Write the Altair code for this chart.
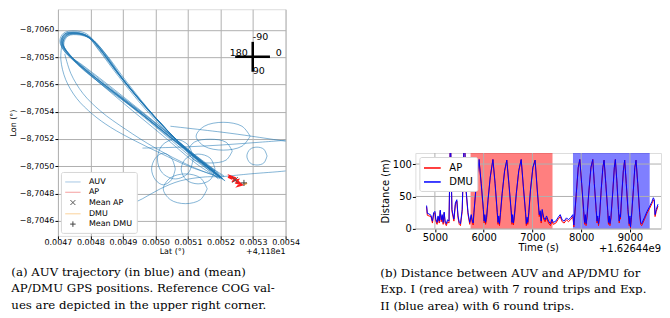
import altair as alt
import pandas as pd

# ---------------- (a) AUV trajectory (lat offset from 41.18, lon) ----------------
lat_lap1 = [0.005199, 0.005092, 0.004985, 0.004893, 0.004832, 0.004795, 0.004758, 0.004724, 0.004712, 0.004734, 0.004801, 0.004908, 0.005030, 0.005138, 0.005205]
lon_lap1 = [-8.704922, -8.705133, -8.705394, -8.705656, -8.705852, -8.705947, -8.705976, -8.705961, -8.705903, -8.705816, -8.705678, -8.705474, -8.705242, -8.705024, -8.704915]
lat_lap2 = [0.005193, 0.005086, 0.004978, 0.004887, 0.004829, 0.004792, 0.004755, 0.004721, 0.004709, 0.004728, 0.004795, 0.004899, 0.005021, 0.005131, 0.005199]
lon_lap2 = [-8.704907, -8.705140, -8.705409, -8.705671, -8.705860, -8.705954, -8.705983, -8.705969, -8.705911, -8.705823, -8.705678, -8.705467, -8.705227, -8.705009, -8.704907]
lat_lap3 = [0.005211, 0.005101, 0.004994, 0.004902, 0.004841, 0.004801, 0.004764, 0.004728, 0.004715, 0.004740, 0.004813, 0.004923, 0.005040, 0.005147, 0.005211]
lon_lap3 = [-8.704929, -8.705111, -8.705373, -8.705634, -8.705838, -8.705932, -8.705969, -8.705954, -8.705896, -8.705802, -8.705649, -8.705453, -8.705227, -8.705016, -8.704922]
lat_lap4 = [0.005187, 0.005083, 0.004975, 0.004884, 0.004822, 0.004789, 0.004752, 0.004721, 0.004712, 0.004746, 0.004822, 0.004933, 0.005046, 0.005147, 0.005193]
lon_lap4 = [-8.704936, -8.705147, -8.705416, -8.705678, -8.705867, -8.705954, -8.705976, -8.705961, -8.705896, -8.705787, -8.705627, -8.705431, -8.705205, -8.705038, -8.704951]
lat_lap5 = [0.005205, 0.005095, 0.004988, 0.004896, 0.004835, 0.004798, 0.004761, 0.004728, 0.004715, 0.004731, 0.004786, 0.004887, 0.005009, 0.005125, 0.005205]
lon_lap5 = [-8.704907, -8.705125, -8.705387, -8.705649, -8.705845, -8.705940, -8.705969, -8.705961, -8.705903, -8.705831, -8.705707, -8.705511, -8.705271, -8.705038, -8.704907]
lat_lap6 = [0.005183, 0.005076, 0.004972, 0.004881, 0.004822, 0.004789, 0.004752, 0.004718, 0.004706, 0.004721, 0.004777, 0.004878, 0.005000, 0.005107, 0.005183]
lon_lap6 = [-8.704965, -8.705169, -8.705431, -8.705692, -8.705881, -8.705969, -8.705991, -8.705976, -8.705918, -8.705838, -8.705722, -8.705533, -8.705300, -8.705096, -8.704965]
lat_lap7 = [0.005214, 0.005107, 0.005000, 0.004911, 0.004847, 0.004807, 0.004767, 0.004731, 0.004718, 0.004752, 0.004832, 0.004948, 0.005061, 0.005159, 0.005214]
lon_lap7 = [-8.704893, -8.705096, -8.705358, -8.705620, -8.705823, -8.705925, -8.705961, -8.705954, -8.705889, -8.705765, -8.705605, -8.705402, -8.705184, -8.704995, -8.704893]
lat_lap8 = [0.005199, 0.005089, 0.004982, 0.004890, 0.004829, 0.004792, 0.004755, 0.004721, 0.004712, 0.004740, 0.004816, 0.004930, 0.005052, 0.005153, 0.005199]
lon_lap8 = [-8.704915, -8.705140, -8.705402, -8.705663, -8.705860, -8.705954, -8.705976, -8.705969, -8.705911, -8.705809, -8.705649, -8.705445, -8.705213, -8.705009, -8.704915]
lat_lap9 = [0.005202, 0.005095, 0.004988, 0.004896, 0.004838, 0.004801, 0.004761, 0.004728, 0.004715, 0.004731, 0.004783, 0.004868, 0.004985, 0.005107, 0.005202]
lon_lap9 = [-8.704922, -8.705125, -8.705387, -8.705649, -8.705845, -8.705940, -8.705976, -8.705961, -8.705896, -8.705823, -8.705722, -8.705562, -8.705344, -8.705111, -8.704922]
lat_lap10 = [0.005196, 0.005086, 0.004978, 0.004887, 0.004825, 0.004792, 0.004758, 0.004724, 0.004715, 0.004749, 0.004838, 0.004954, 0.005070, 0.005162, 0.005196]
lon_lap10 = [-8.704929, -8.705133, -8.705394, -8.705656, -8.705852, -8.705947, -8.705969, -8.705961, -8.705903, -8.705780, -8.705591, -8.705387, -8.705169, -8.704995, -8.704929]
lat_lap11 = [0.005208, 0.005098, 0.004991, 0.004899, 0.004835, 0.004795, 0.004758, 0.004721, 0.004709, 0.004724, 0.004770, 0.004850, 0.004969, 0.005092, 0.005208]
lon_lap11 = [-8.704907, -8.705118, -8.705380, -8.705642, -8.705838, -8.705940, -8.705976, -8.705969, -8.705903, -8.705831, -8.705751, -8.705605, -8.705380, -8.705140, -8.704907]

lat_out1 = [0.004712, 0.004709, 0.004724, 0.004758, 0.004807, 0.004862, 0.004939, 0.005015, 0.005107, 0.005199]
lon_out1 = [-8.705889, -8.705780, -8.705634, -8.705496, -8.705380, -8.705285, -8.705184, -8.705096, -8.704995, -8.704922]
lat_out2 = [0.004721, 0.004740, 0.004777, 0.004832, 0.004908, 0.005000, 0.005107, 0.005199]
lon_out2 = [-8.705823, -8.705678, -8.705533, -8.705402, -8.705271, -8.705133, -8.705002, -8.704915]
lat_out3 = [0.004960, 0.005076, 0.005199, 0.005321, 0.005444]
lon_out3 = [-8.705133, -8.705140, -8.705155, -8.705176, -8.705198]
lat_out4 = [0.005199, 0.005291, 0.005398, 0.005444]
lon_out4 = [-8.704922, -8.704944, -8.704965, -8.704980]
lat_out5 = [0.005046, 0.005229, 0.005398, 0.005444]
lon_out5 = [-8.705293, -8.705242, -8.705184, -8.705169]
lat_out6 = [0.004862, 0.004908, 0.004960, 0.005015, 0.005076, 0.005153, 0.005199]
lon_out6 = [-8.704660, -8.704704, -8.704762, -8.704835, -8.704893, -8.704922, -8.704922]

lat_circ1 = [0.005291, 0.005266, 0.005208, 0.005150, 0.005125, 0.005150, 0.005208, 0.005266, 0.005291]
lon_circ1 = [-8.705220, -8.705293, -8.705322, -8.705293, -8.705220, -8.705147, -8.705118, -8.705147, -8.705220]
lat_circ2 = [0.005183, 0.005168, 0.005131, 0.005095, 0.005079, 0.005095, 0.005131, 0.005168, 0.005183]
lon_circ2 = [-8.704980, -8.705060, -8.705089, -8.705060, -8.704980, -8.704900, -8.704871, -8.704900, -8.704980]
lat_circ3 = [0.005116, 0.005101, 0.005061, 0.005021, 0.005006, 0.005021, 0.005061, 0.005101, 0.005116]
lon_circ3 = [-8.705053, -8.705155, -8.705198, -8.705155, -8.705053, -8.704951, -8.704907, -8.704951, -8.705053]
lat_circ4 = [0.005343, 0.005333, 0.005312, 0.005291, 0.005281, 0.005291, 0.005312, 0.005333, 0.005343]
lon_circ4 = [-8.705075, -8.705125, -8.705140, -8.705125, -8.705075, -8.705024, -8.705009, -8.705024, -8.705075]
lat_circ5 = [0.005236, 0.005217, 0.005168, 0.005119, 0.005101, 0.005119, 0.005168, 0.005217, 0.005236]
lon_circ5 = [-8.705111, -8.705176, -8.705198, -8.705176, -8.705111, -8.705045, -8.705024, -8.705045, -8.705111]
lat_circ6 = [0.005159, 0.005138, 0.005092, 0.005046, 0.005024, 0.005046, 0.005092, 0.005138, 0.005159]
lon_circ6 = [-8.704835, -8.704915, -8.704944, -8.704915, -8.704835, -8.704755, -8.704726, -8.704755, -8.704835]
lat_circ7 = [0.005061, 0.005049, 0.005024, 0.005000, 0.004988, 0.005000, 0.005024, 0.005049, 0.005061]
lon_circ7 = [-8.704980, -8.705060, -8.705096, -8.705060, -8.704980, -8.704900, -8.704864, -8.704900, -8.704980]

lat_ap = [0.005223, 0.005236, 0.005229, 0.005245, 0.005239, 0.005254, 0.005248, 0.005260, 0.005254, 0.005266, 0.005245, 0.005232]
lon_ap = [-8.704922, -8.704907, -8.704929, -8.704915, -8.704893, -8.704900, -8.704878, -8.704871, -8.704856, -8.704864, -8.704907, -8.704915]
lat_dmu = [0.005269, 0.005278, 0.005272, 0.005281]
lon_dmu = [-8.704878, -8.704871, -8.704864, -8.704878]

mean_names = ["Mean AP", "Mean DMU"]
mean_lat = [0.005245, 0.005272]
mean_lon = [-8.704900, -8.704878]

legend_names = ["AUV", "AP", "Mean AP", "DMU", "Mean DMU"]
legend_colors = ["#a6c8e4", "#f5a0a0", "#555555", "#fbd29a", "#444444"]
legend_shapes = ["M-1.4,0L1.4,0", "M-1.4,0L1.4,0",
                 "M-0.45,-0.45L0.45,0.45M-0.45,0.45L0.45,-0.45",
                 "M-1.4,0L1.4,0", "M-0.5,0L0.5,0M0,-0.5L0,0.5"]

compass_h_lat = [0.005245, 0.005352]
compass_h_lon = [-8.705802]
compass_v_lat = [0.005299]
compass_v_lon = [-8.705911, -8.705692]
compass_left_text = ["-90", "0", "90"]
compass_left_lat = [0.005299, 0.005370, 0.005299]
compass_left_lon = [-8.705921, -8.705809, -8.705678]
compass_right_text = ["180"]
compass_right_lat = [0.005284]
compass_right_lon = [-8.705809]

lat_ticks = [0.0047, 0.0048, 0.0049, 0.0050, 0.0051, 0.0052, 0.0053, 0.0054]
lon_ticks = [-8.7060, -8.7058, -8.7056, -8.7054, -8.7052, -8.7050, -8.7048, -8.7046]

# ---------------- (b) distance time series ----------------
time_s = [
    4830, 4845, 4880, 4920, 4950, 4975, 5000, 5020, 5045, 5065,
    5090, 5110, 5130, 5150, 5170, 5190, 5210, 5235, 5260, 5290,
    5318, 5350, 5390, 5420, 5450, 5475, 5500, 5525, 5560, 5605,
    5640, 5680, 5715,
    5745, 5765, 5785, 5800, 5850, 5905, 5950, 5995, 6010, 6025,
    6040, 6060, 6090, 6135, 6190, 6235, 6280, 6295, 6310, 6325,
    6345, 6380, 6430, 6475, 6520, 6565, 6580, 6595, 6610, 6630,
    6670, 6720, 6770, 6815, 6860, 6875, 6890, 6905, 6925, 6960,
    7010, 7055, 7100, 7140, 7160, 7180, 7200, 7230, 7260, 7290,
    7330, 7370, 7400,
    7430, 7480, 7530, 7570, 7610, 7650, 7700, 7740, 7790, 7830,
    7850, 7865, 7900, 7940, 7972, 8010, 8050, 8070, 8085, 8100,
    8120, 8160, 8200, 8238, 8270, 8310, 8325, 8340, 8355, 8375,
    8410, 8445, 8470, 8505, 8545, 8560, 8575, 8590, 8610, 8650,
    8680, 8701, 8735, 8765, 8780, 8795, 8805, 8830, 8865, 8892,
    8925, 8960, 8985, 9000, 9010, 9030, 9070, 9100, 9125, 9160,
    9200, 9220, 9240, 9300, 9350, 9400, 9450, 9480, 9500, 9515,
    9540, 9575]
dist_dmu = [
    36, 24, 23, 21, 12, 25, 27, 15, 10, 20,
    12, 29, 14, 22, 10, 26, 12, 8, 14, 12,
    150, 30, 15, 40, 45, 20, 10, 8, 30, 150,
    60, 25, 10,
    22, 14, 9, 25, 70, 107, 70, 30, 12, 22,
    10, 18, 45, 80, 107, 70, 25, 10, 20, 8,
    25, 55, 90, 106, 68, 28, 10, 22, 9, 20,
    55, 90, 107, 65, 25, 8, 18, 10, 25, 60,
    95, 106, 60, 22, 28, 12, 30, 18, 14, 20,
    12, 8, 15,
    10, 12, 18, 22, 14, 12, 17, 14, 18, 22,
    6, 20, 55, 95, 107, 70, 30, 10, 22, 8,
    20, 60, 95, 107, 70, 28, 12, 20, 8, 18,
    60, 95, 106, 70, 28, 10, 20, 8, 18, 60,
    95, 107, 70, 30, 12, 22, 18, 50, 90, 106,
    70, 30, 8, 20, 3, 18, 60, 95, 106, 70,
    25, 10, 8, 18, 27, 34, 42, 48, 45, 22,
    30, 38]
dist_ap = [
    34, 21, 20, 19, 9, 23, 25, 12, 7, 18,
    9, 27, 11, 20, 7, 24, 9, 5, 11, 9,
    150, 27, 12, 37, 43, 17, 7, 5, 27, 150,
    58, 22, 7,
    20, 11, 6, 23, 69, 107, 69, 27, 9, 19,
    7, 15, 44, 79, 107, 69, 22, 7, 17, 5,
    22, 54, 89, 106, 67, 25, 7, 19, 6, 17,
    54, 89, 107, 64, 22, 5, 15, 7, 22, 59,
    94, 106, 59, 19, 25, 9, 27, 15, 11, 17,
    9, 5, 12,
    7, 9, 15, 19, 11, 9, 14, 11, 15, 19,
    3, 17, 54, 94, 107, 69, 27, 7, 19, 5,
    17, 59, 94, 107, 69, 25, 9, 17, 5, 15,
    59, 94, 106, 69, 25, 7, 17, 5, 15, 59,
    94, 107, 69, 27, 9, 19, 15, 49, 89, 106,
    69, 27, 5, 17, 1, 15, 59, 94, 106, 69,
    22, 7, 5, 15, 24, 31, 39, 45, 42, 19,
    27, 35]
exp_names = ["Exp. I", "Exp. II"]
exp_start = [5732, 7832]
exp_end = [7412, 9405]
time_ticks = [5000, 6000, 7000, 8000, 9000]
dist_ticks = [0, 50, 100]

caption_a = ["(a) AUV trajectory (in blue) and (mean)",
             "AP/DMU GPS positions. Reference COG val-",
             "ues are depicted in the upper right corner."]
caption_b = ["(b) Distance between AUV and AP/DMU for",
             "Exp. I (red area) with 7 round trips and Exp.",
             "II (blue area) with 6 round trips."]

# ---------------- build tables ----------------
def tracks_df(tracks):
    rows = []
    for name, la, lo in tracks:
        for i, (a, b) in enumerate(zip(la, lo)):
            rows.append({"track": name, "i": i, "lat": a, "lon": b})
    return pd.DataFrame(rows)

auv_df = tracks_df([
    ("lap1", lat_lap1, lon_lap1), ("lap2", lat_lap2, lon_lap2), ("lap3", lat_lap3, lon_lap3),
    ("lap4", lat_lap4, lon_lap4), ("lap5", lat_lap5, lon_lap5), ("lap6", lat_lap6, lon_lap6),
    ("lap7", lat_lap7, lon_lap7), ("lap8", lat_lap8, lon_lap8), ("lap9", lat_lap9, lon_lap9),
    ("lap10", lat_lap10, lon_lap10), ("lap11", lat_lap11, lon_lap11),
    ("o1", lat_out1, lon_out1), ("o2", lat_out2, lon_out2), ("o3", lat_out3, lon_out3),
    ("o4", lat_out4, lon_out4), ("o5", lat_out5, lon_out5), ("o6", lat_out6, lon_out6),
    ("c1", lat_circ1, lon_circ1), ("c2", lat_circ2, lon_circ2), ("c3", lat_circ3, lon_circ3),
    ("c4", lat_circ4, lon_circ4), ("c5", lat_circ5, lon_circ5), ("c6", lat_circ6, lon_circ6),
    ("c7", lat_circ7, lon_circ7),
])
ap_df = tracks_df([("ap", lat_ap, lon_ap)])
dmu_df = tracks_df([("dmu", lat_dmu, lon_dmu)])
mean_df = pd.DataFrame({"series": mean_names, "lat": mean_lat, "lon": mean_lon})
comp_h_df = pd.DataFrame({"lat": [compass_h_lat[0]], "lat2": [compass_h_lat[1]], "lon": compass_h_lon})
comp_v_df = pd.DataFrame({"lat": compass_v_lat, "lon": [compass_v_lon[0]], "lon2": [compass_v_lon[1]]})
comp_l_df = pd.DataFrame({"t": compass_left_text, "lat": compass_left_lat, "lon": compass_left_lon})
comp_r_df = pd.DataFrame({"t": compass_right_text, "lat": compass_right_lat, "lon": compass_right_lon})

FONT = "DejaVu Sans"
SERIF = "DejaVu Serif"
W1, H1 = 228, 227
W2, H2 = 246, 76

xs = alt.Scale(domain=[0.0047, 0.0054], nice=False, zero=False)
ys = alt.Scale(domain=[-8.70615, -8.70449], nice=False, zero=False, reverse=True)
ax_common = dict(labelFont=FONT, titleFont=FONT, titleFontWeight="normal", grid=True,
                 gridColor="#b0b0b0", gridWidth=1, domain=False, tickColor="black",
                 labelColor="black", titleColor="black", labelFlush=False, labelOverlap=False)
x_ax = alt.Axis(values=lat_ticks, format=".4f", title="Lat (°)", labelFontSize=8, titleFontSize=8,
                tickSize=3, labelPadding=0, titlePadding=1, **ax_common)
y_ax = alt.Axis(values=lon_ticks, labelExpr="replace(format(datum.value, '.4f'), '.', ',')",
                title="Lon (°)", labelFontSize=8, titleFontSize=8, tickSize=3, labelPadding=1,
                titlePadding=2, **ax_common)
X = alt.X("lat:Q", scale=xs, axis=x_ax)
Y = alt.Y("lon:Q", scale=ys, axis=y_ax)

auv = alt.Chart(auv_df).mark_line(clip=True, color="#1f77b4", strokeWidth=1, opacity=0.55,
                                  interpolate="catmull-rom").encode(x=X, y=Y, detail="track:N", order="i:Q")
ap = alt.Chart(ap_df).mark_line(clip=True, color="#ff0000", strokeWidth=1.8, opacity=0.9).encode(
    x=X, y=Y, order="i:Q")
dmu = alt.Chart(dmu_df).mark_line(clip=True, color="#ff9f2e", strokeWidth=1.5, opacity=0.8).encode(
    x=X, y=Y, order="i:Q")
leg_a = alt.Legend(title=None, orient="bottom-left", offset=3, labelFont=FONT, labelFontSize=8,
                   labelColor="black", symbolSize=121, symbolStrokeWidth=1, symbolOffset=2,
                   labelOffset=10, padding=4, rowPadding=0.3, fillColor="white",
                   strokeColor="#d6d6d6", cornerRadius=2)
means = alt.Chart(mean_df).mark_point(filled=False, size=150, strokeWidth=1, opacity=1).encode(
    x=X, y=Y,
    color=alt.Color("series:N", scale=alt.Scale(domain=legend_names, range=legend_colors), legend=leg_a),
    shape=alt.Shape("series:N", scale=alt.Scale(domain=legend_names, range=legend_shapes), legend=leg_a))
comp_h = alt.Chart(comp_h_df).mark_rule(color="black", strokeWidth=2.5).encode(x=X, x2="lat2:Q", y=Y)
comp_v = alt.Chart(comp_v_df).mark_rule(color="black", strokeWidth=2.5).encode(x=X, y=Y, y2="lon2:Q")
comp_tl = alt.Chart(comp_l_df).mark_text(align="left", baseline="alphabetic", font=FONT, fontSize=9.5,
                                         color="black").encode(x=X, y=Y, text="t:N")
comp_tr = alt.Chart(comp_r_df).mark_text(align="right", baseline="alphabetic", font=FONT, fontSize=9.5,
                                         color="black").encode(x=X, y=Y, text="t:N")
off_a = alt.Chart(pd.DataFrame({"t": ["+4,118e1"]})).mark_text(
    align="right", baseline="top", font=FONT, fontSize=8, color="black").encode(
    x=alt.value(W1), y=alt.value(H1 + 12), text="t:N")

CAP = dict(orient="bottom", anchor="start", frame="bounds", font=SERIF, fontSize=11.8,
           fontWeight="normal", lineHeight=16.5, color="black")
left = alt.layer(auv, ap, dmu, means, comp_h, comp_v, comp_tl, comp_tr, off_a).properties(
    width=W1, height=H1,
    title=alt.TitleParams(text=caption_a, offset=11, dx=2, **CAP))

# ---------------- right panel ----------------
dist_df = pd.DataFrame({"time": time_s * 2, "dist": dist_ap + dist_dmu,
                        "sensor": ["AP"] * len(time_s) + ["DMU"] * len(time_s)})
exp_df = pd.DataFrame({"exp": exp_names, "start": exp_start, "end": exp_end})

ts = alt.Scale(domain=[4600, 9637], nice=False, zero=False)
ds = alt.Scale(domain=[0, 117], nice=False, zero=False)
ax2 = dict(labelFont=FONT, titleFont=FONT, titleFontWeight="normal", grid=False, domain=False,
           tickColor="black", labelColor="black", titleColor="black", labelFlush=False,
           labelOverlap=False, labelFontSize=10, titleFontSize=10, tickSize=3)
t_ax = alt.Axis(values=time_ticks, format="d", title="Time (s)", labelPadding=1, titlePadding=0, **ax2)
d_ax = alt.Axis(values=dist_ticks, format="d", title="Distance (m)", labelPadding=1, titlePadding=2, **ax2)
T = alt.X("time:Q", scale=ts, axis=t_ax)
D = alt.Y("dist:Q", scale=ds, axis=d_ax)

red_area = alt.Chart(exp_df[exp_df.exp == "Exp. I"]).mark_rect(color="#ff0000", opacity=0.5).encode(
    x=alt.X("start:Q", scale=ts, axis=t_ax), x2="end:Q")
blue_area = alt.Chart(exp_df[exp_df.exp == "Exp. II"]).mark_rect(color="#0000ff", opacity=0.5).encode(
    x=alt.X("start:Q", scale=ts, axis=t_ax), x2="end:Q")
grid_x = alt.Chart(pd.DataFrame({"time": time_ticks})).mark_rule(color="#b0b0b0", strokeWidth=1).encode(x=T)
grid_y = alt.Chart(pd.DataFrame({"dist": dist_ticks})).mark_rule(color="#b0b0b0", strokeWidth=1).encode(y=D)
leg_b = alt.Legend(title=None, orient="top-left", offset=4, labelFont=FONT, labelFontSize=10,
                   labelColor="black", symbolType="M-1.4,0L1.4,0", symbolSize=144, symbolStrokeWidth=1.5,
                   symbolOffset=2, labelOffset=10, padding=4, rowPadding=2, fillColor="white",
                   strokeColor="#d6d6d6", cornerRadius=2)
sensor_color = alt.Color("sensor:N", scale=alt.Scale(domain=["AP", "DMU"], range=["#ff0000", "#0000ff"]),
                         legend=leg_b)
line_ap = alt.Chart(dist_df[dist_df.sensor == "AP"]).mark_line(clip=True, strokeWidth=1).encode(
    x=T, y=D, color=sensor_color)
line_dmu = alt.Chart(dist_df[dist_df.sensor == "DMU"]).mark_line(clip=True, strokeWidth=1).encode(
    x=T, y=D, color=sensor_color)
off_b = alt.Chart(pd.DataFrame({"t": ["+1.62644e9"]})).mark_text(
    align="right", baseline="top", font=FONT, fontSize=10, color="black").encode(
    x=alt.value(W2), y=alt.value(H2 + 15), text="t:N")

right = alt.layer(red_area, blue_area, grid_x, grid_y, line_ap, line_dmu, off_b).properties(
    width=W2, height=H2,
    title=alt.TitleParams(text=caption_b, offset=14, dx=0, **CAP))

spacer = alt.Chart(pd.DataFrame({"v": [0]})).mark_point(opacity=0).encode(
    x=alt.X("v:Q", axis=None), y=alt.Y("v:Q", axis=None)).properties(
    width=W2, height=144, view=alt.ViewBackground(stroke="transparent", strokeWidth=0))

right_col = alt.vconcat(spacer, right, spacing=0, bounds="flush").resolve_scale(
    x="independent", y="independent", color="independent").resolve_legend(color="independent")

chart = alt.hconcat(left, right_col, spacing=130, bounds="flush").resolve_scale(
    color="independent", shape="independent").resolve_legend(
    color="independent", shape="independent").properties(
    padding={"left": 0, "top": 0, "right": 0, "bottom": 0}).configure_view(
    stroke="black", strokeWidth=1).configure(background="white")

chart.save("out.html", embed_options={"renderer": "svg", "actions": False})
